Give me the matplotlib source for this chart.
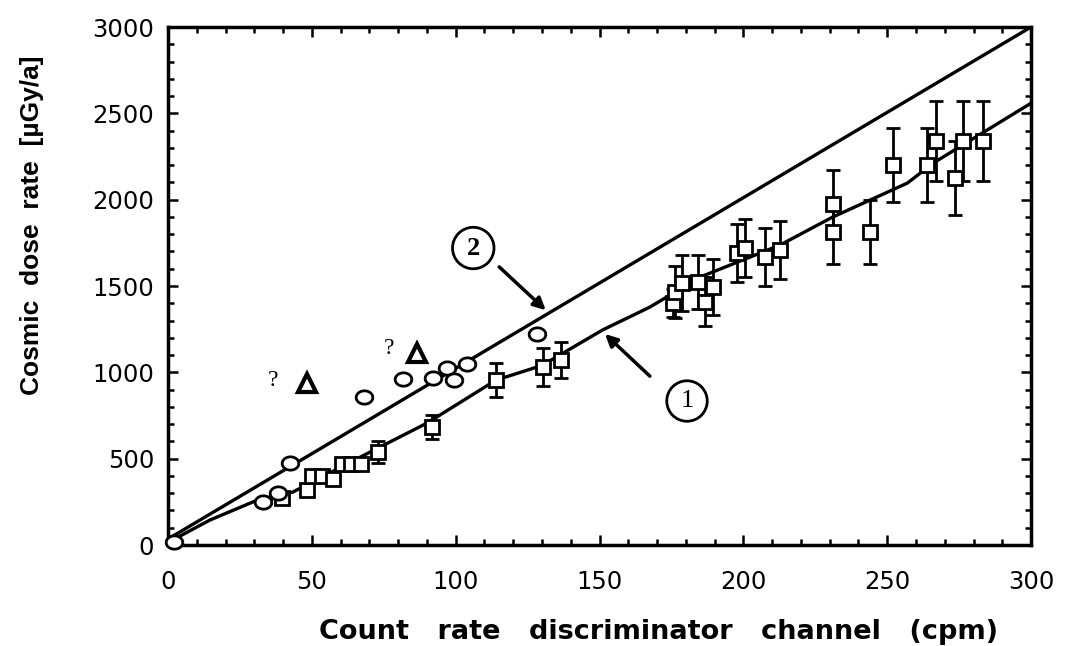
# cosmic dose rate vs count rate in the discriminator channel
import numpy as np
import matplotlib
matplotlib.use('Agg')
import matplotlib.pyplot as plt
from matplotlib.ticker import MultipleLocator

# curve 1 (measured calibration) and line 2
curve1_x = [0, 14.6, 31, 43.4, 70.2, 90, 114, 130, 151, 167.5, 185, 212.7, 231, 257, 266, 300]
curve1_y = [15, 145, 260, 307, 538, 706, 955, 1040, 1245, 1378, 1552, 1737, 1899, 2096, 2212, 2559]
line2_x = [0, 300]
line2_y = [35, 3000]

# squares with error bars
sq_x = [39.6, 48.3, 50.0, 53.5, 57.5, 60.5, 63.5, 67.0, 73.0, 91.8, 114.0, 130.3, 136.5,
        175.5, 176.2, 178.7, 184.2, 186.6, 189.4, 197.8, 200.6, 207.5, 212.7,
        231.0, 231.0, 244.0, 252.0, 263.8, 267.0, 273.5, 276.3, 283.3]
sq_y = [272, 318, 400, 400, 385, 470, 470, 470, 540, 685, 955, 1031, 1071,
        1400, 1465, 1517, 1523, 1410, 1494, 1691, 1720, 1668, 1708,
        1975, 1812, 1812, 2200, 2200, 2339, 2125, 2339, 2339]
sq_err = [0, 25, 0, 0, 0, 0, 0, 0, 65, 70, 100, 110, 105,
          80, 150, 160, 155, 140, 160, 170, 170, 170, 170,
          196, 185, 185, 214, 214, 230, 215, 230, 230]

# open circles (ellipses)
circ_x = [2, 33, 38.2, 42.4, 68, 81.6, 92, 97, 99.4, 103.9, 128.3]
circ_y = [15, 249, 301, 475, 857, 961, 967, 1028, 955, 1048, 1222]

# triangles with question marks
tri_x = [48.3, 86.5]
tri_y = [938, 1111]
q_x = [36.5, 76.8]
q_y = [955, 1140]

fig = plt.figure(figsize=(10.69, 6.46), dpi=100)
ax = fig.add_axes([0.1572, 0.1563, 0.8073, 0.8019])

ax.plot(line2_x, line2_y, color='black', lw=2.4, zorder=2)
ax.plot(curve1_x, curve1_y, color='black', lw=2.4, zorder=2)

ax.errorbar(sq_x, sq_y, yerr=sq_err, fmt='s', ms=10, mfc='white', mec='black', mew=2,
            ecolor='black', elinewidth=2, capsize=5, capthick=2.5, zorder=3)

t = np.linspace(0, 2 * np.pi, 40)
ellipse = np.column_stack([1.25 * np.cos(t), np.sin(t)])
ax.plot(circ_x, circ_y, ls='none', marker=ellipse, ms=12, mfc='white', mec='black',
        mew=2, zorder=4, clip_on=False)

ax.plot(tri_x, tri_y, ls='none', marker='^', ms=13, mfc='white', mec='black', mew=3, zorder=4)
for qx, qy in zip(q_x, q_y):
    ax.text(qx, qy, '?', fontsize=17, family='Liberation Serif', ha='center', va='center')

# circled labels and arrows
ax.text(106.1, 1720, '2', fontsize=19, family='Liberation Serif', fontweight='bold',
        ha='center', va='center',
        bbox=dict(boxstyle='circle,pad=0.35', fc='white', ec='black', lw=2))
ax.annotate('', xy=(132, 1349), xytext=(114.4, 1622),
            arrowprops=dict(arrowstyle='-|>', lw=2.5, color='black', mutation_scale=18))
ax.text(180.4, 834, '1', fontsize=19, family='Liberation Serif',
        ha='center', va='center',
        bbox=dict(boxstyle='circle,pad=0.35', fc='white', ec='black', lw=2))
ax.annotate('', xy=(151.2, 1233), xytext=(168.2, 967),
            arrowprops=dict(arrowstyle='-|>', lw=2.5, color='black', mutation_scale=18))

ax.set_xlim(0, 300)
ax.set_ylim(0, 3000)
ax.xaxis.set_major_locator(MultipleLocator(50))
ax.xaxis.set_minor_locator(MultipleLocator(10))
ax.yaxis.set_major_locator(MultipleLocator(500))
ax.yaxis.set_minor_locator(MultipleLocator(100))
ax.tick_params(which='both', direction='in', top=True, right=True, width=1.8)
ax.tick_params(which='major', length=7)
ax.tick_params(which='minor', length=4)
ax.tick_params(axis='x', which='major', pad=18)
ax.tick_params(axis='y', which='major', pad=10)
for lab in ax.get_xticklabels() + ax.get_yticklabels():
    lab.set_family('DejaVu Sans')
    lab.set_fontsize(17.5)
for sp in ax.spines.values():
    sp.set_linewidth(2.5)

# axis titles placed where they sit in the original
fig.text(659 / 1069, 1 - 632 / 646, 'Count   rate   discriminator   channel   (cpm)',
         family='DejaVu Sans', fontsize=19.5, fontweight='bold', ha='center', va='center')
fig.text(0.030, 1 - 225 / 646, 'Cosmic  dose  rate  [\u00b5Gy/a]', rotation=90,
         family='Liberation Sans', fontsize=19, fontweight='bold', ha='center', va='center')

fig.savefig('out.png', dpi=100)
